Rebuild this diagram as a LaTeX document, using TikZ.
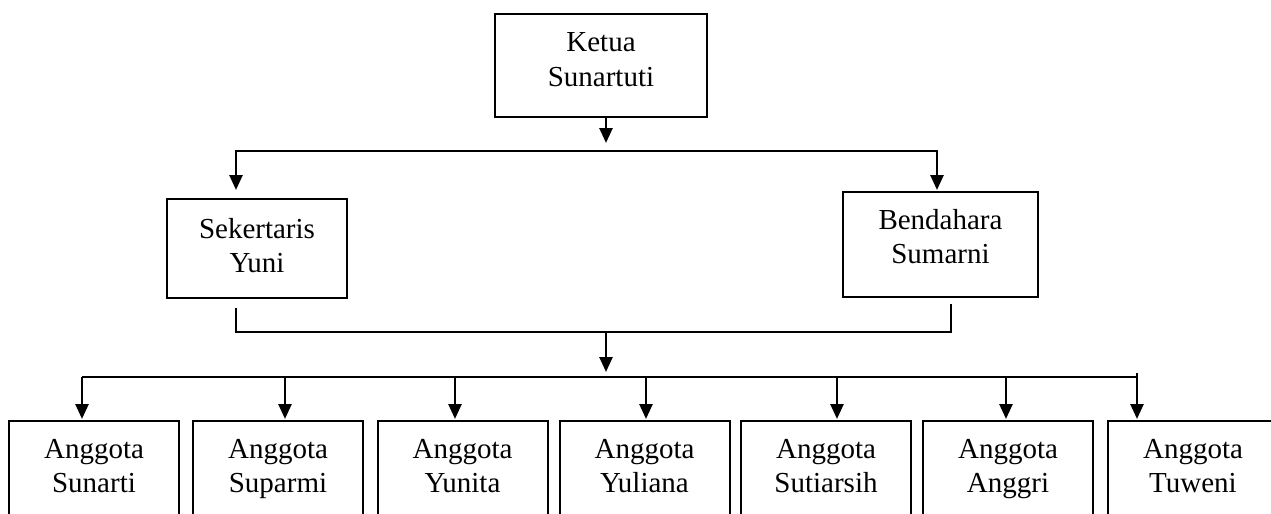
\documentclass[tikz,border=0pt]{standalone}
\usepackage{fontspec}
\setmainfont{Liberation Serif}
\usetikzlibrary{arrows.meta}
% two centred lines, baseline at the first one
\newcommand\duo[2]{\begin{tabular}[t]{@{}c@{}}#1\\#2\end{tabular}}
\begin{document}
\begin{tikzpicture}[x=0.5pt,y=-0.5pt,
  box/.style={draw, line width=1pt, inner sep=0pt},
  wire/.style={line width=1.3pt},
  arr/.style={wire, -{Triangle[length=7.5pt,width=6.5pt]}},
  lbl/.style={anchor=base, inner sep=0pt, font=\fontsize{14.5}{17.25}\selectfont}
]
\clip (0,0) rectangle (1271,514);

% chair
\node[box, minimum width=106pt, minimum height=51.5pt] (ketua) at (601,65.5) {};
\node[lbl] (ketuaT) at (601,52) {\duo{Ketua}{Sunartuti}};

% secretary and treasurer
\node[box, minimum width=90pt, minimum height=49.5pt] (sek) at (257,248.5) {};
\node[lbl] (sekT) at (257,238) {\duo{Sekertaris}{Yuni}};
\node[box, minimum width=97.5pt, minimum height=52.5pt] (ben) at (940.5,244.5) {};
\node[lbl] (benT) at (940.5,229) {\duo{Bendahara}{Sumarni}};

% junction points
\coordinate (k1) at (606,143);
\coordinate (tL) at (236,151);
\coordinate (tR) at (937,151);
\coordinate (sB) at (236,308);
\coordinate (bB) at (951,304);
\coordinate (mL) at (236,332);
\coordinate (mR) at (951,332);
\coordinate (mC) at (606,332);
\coordinate (bC) at (606,372);

% chair to the upper bus
\draw[arr] (ketua.south -| k1) -- (k1);
\draw[wire, {Triangle[length=7.5pt,width=6.5pt]}-{Triangle[length=7.5pt,width=6.5pt]},
      shorten <=4pt, shorten >=0.5pt]
  (sek.north -| tL) -- (tL) -- (tR) -- (ben.north -| tR);

% secretary and treasurer joined below
\draw[wire] (sB) -- (mL) -- (mR) -- (bB);
\draw[arr] (mC) -- (bC);

% members
\foreach \n/\cx/\ax/\who in {1/94/82/Sunarti, 2/278/285/Suparmi,
    3/462.5/455/Yunita, 4/644.5/646/Yuliana, 5/826/837/Sutiarsih,
    6/1008/1006/Anggri, 7/1193/1137/Tuweni} {
  \node[box, minimum width=85pt, minimum height=69.5pt] (a\n) at (\cx,490.5) {};
  \node[lbl] (a\n T) at (\cx,458) {\duo{Anggota}{\who}};
  \coordinate (p\n) at (\ax,377);
  \draw[arr, shorten >=0.5pt] (p\n) -- (a\n.north -| p\n);
}
\coordinate (p7top) at (1137,373);
\draw[wire, line cap=square] (p1) -- (p7);
\draw[wire] (p7top) -- (p7);
\end{tikzpicture}
\end{document}
